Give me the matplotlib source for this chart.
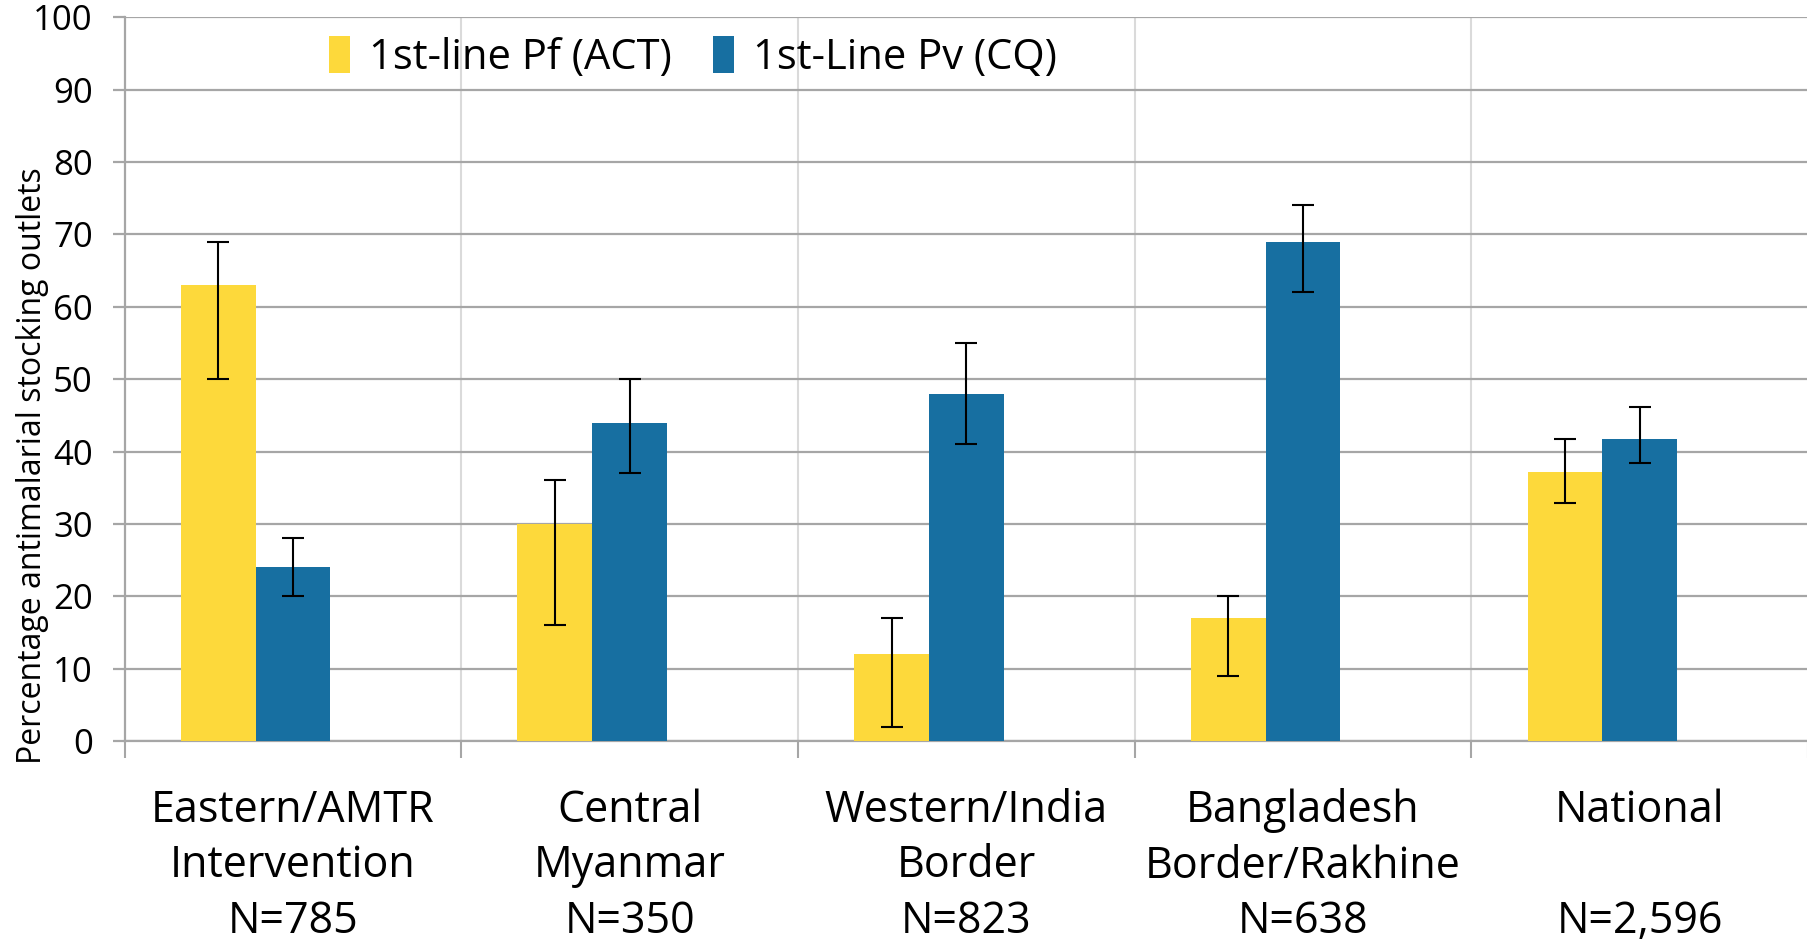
import numpy as np
import matplotlib
matplotlib.use("Agg")
import matplotlib.pyplot as plt

plt.rcParams['font.family'] = ['Open Sans', 'DejaVu Sans']

regions = ['Eastern/AMTR\nIntervention\nN=785', 'Central\nMyanmar\nN=350',
           'Western/India\nBorder\nN=823', 'Bangladesh\nBorder/Rakhine\nN=638',
           'National\n\nN=2,596']
pf = [63, 30, 12, 17, 37.2]
pf_lo = [50, 16, 2, 9, 32.9]
pf_hi = [69, 36, 17, 20, 41.7]
pv = [24, 44, 48, 69, 41.7]
pv_lo = [20, 37, 41, 62, 38.4]
pv_hi = [28, 50, 55, 74, 46.2]

yellow = '#FDD93B'
blue = '#176FA1'

fig = plt.figure(figsize=(18.08, 9.43), dpi=100)
ax = fig.add_axes([0.0689, 0.2142, 0.9311, 0.7675])

x = np.arange(len(regions))
w = 0.222
pf_err = [np.subtract(pf, pf_lo), np.subtract(pf_hi, pf)]
pv_err = [np.subtract(pv, pv_lo), np.subtract(pv_hi, pv)]
ekw = dict(ecolor='black', elinewidth=1.5, capsize=8, capthick=1.5)
ax.bar(x - w, pf, w, color=yellow, label='1st-line Pf (ACT)', zorder=3,
       yerr=pf_err, error_kw=ekw)
ax.bar(x, pv, w, color=blue, label='1st-Line Pv (CQ)', zorder=3,
       yerr=pv_err, error_kw=ekw)

ax.set_xlim(-0.5, len(regions) - 0.5)
ax.set_ylim(0, 100)
ax.set_yticks(np.arange(0, 101, 10))
ax.yaxis.grid(True, color='#A6A6A6', linewidth=1.6, zorder=0)
for b in np.arange(0.5, len(regions) - 0.5, 1):
    ax.axvline(b, color='#DADADA', linewidth=1.5, zorder=0)

ax.set_xticks(x)
ax.set_xticklabels(regions, fontsize=31, linespacing=1.33)
ax.set_xticks(np.arange(-0.5, len(regions), 1), minor=True)
ax.tick_params(axis='x', which='major', length=0, pad=34)
ax.tick_params(axis='x', which='minor', length=12, width=1.5, color='#A6A6A6', direction='out')
ax.tick_params(axis='y', length=9, width=1.6, color='#A6A6A6', labelsize=25, pad=14)

for s in ['top', 'right']:
    ax.spines[s].set_visible(False)
ax.spines['left'].set_color('#A6A6A6')
ax.spines['left'].set_linewidth(1.6)
ax.spines['bottom'].set_color('#A6A6A6')
ax.spines['bottom'].set_linewidth(1.6)

ax.set_ylabel('Percentage antimalarial stocking outlets', fontsize=23)
ax.yaxis.set_label_coords(-0.045, 0.38)

ax.legend(loc='center left', bbox_to_anchor=(0.173, 0.939), bbox_transform=fig.transFigure,
          ncol=2, frameon=False, fontsize=30, handlelength=0.5, handleheight=1.0,
          handletextpad=0.45, columnspacing=1.0, borderaxespad=0)

fig.savefig('out.png', dpi=100)
